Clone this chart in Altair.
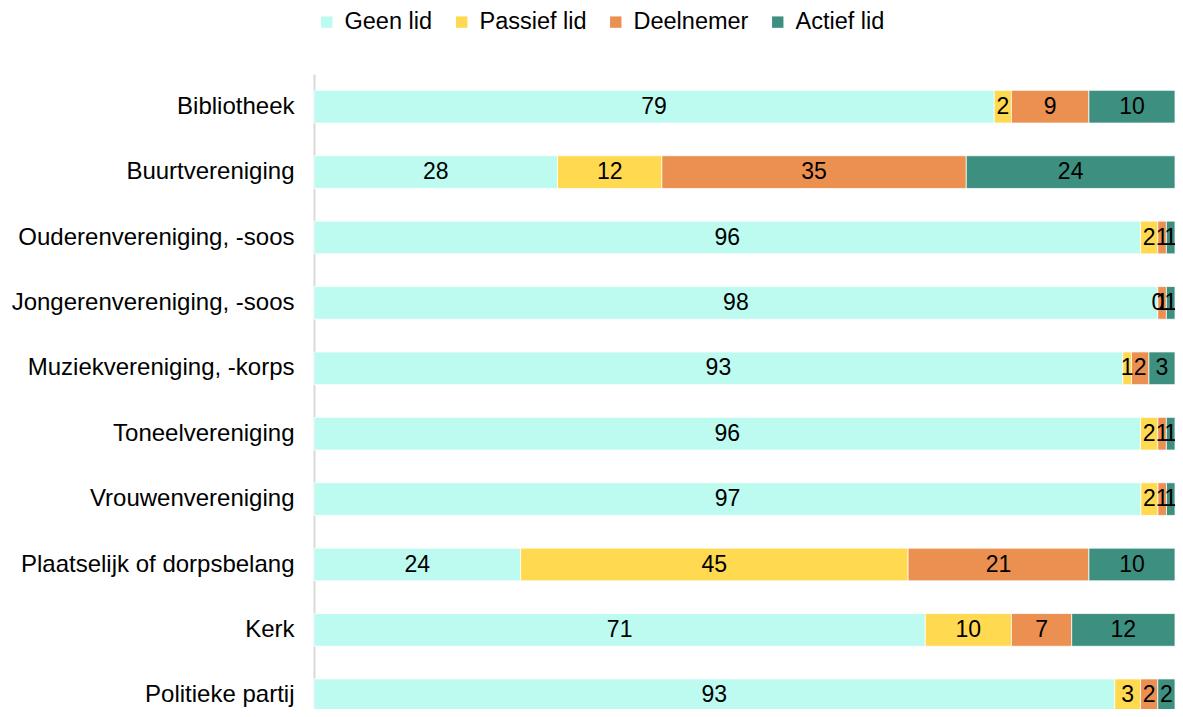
import altair as alt
import pandas as pd

categories = ["Bibliotheek", "Buurtvereniging", "Ouderenvereniging, -soos",
              "Jongerenvereniging, -soos", "Muziekvereniging, -korps",
              "Toneelvereniging", "Vrouwenvereniging", "Plaatselijk of dorpsbelang",
              "Kerk", "Politieke partij"]
series = ["Geen lid", "Passief lid", "Deelnemer", "Actief lid"]
geen_lid = [79, 28, 96, 98, 93, 96, 97, 24, 71, 93]
passief_lid = [2, 12, 2, 0, 1, 2, 2, 45, 10, 3]
deelnemer = [9, 35, 1, 1, 2, 1, 1, 21, 7, 2]
actief_lid = [10, 24, 1, 1, 3, 1, 1, 10, 12, 2]
colors = ["#BDFBF1", "#FFD94F", "#EB9050", "#3D9080"]

rows = []
for si, (name, vals) in enumerate(zip(series, [geen_lid, passief_lid, deelnemer, actief_lid])):
    for c, v in zip(categories, vals):
        rows.append({"cat": c, "series": name, "value": v, "order": si})
df = pd.DataFrame(rows)

FONT = "Liberation Sans"

base = alt.Chart(df).transform_stack(
    stack="value", groupby=["cat"], as_=["v0", "v1"],
    offset="normalize", sort=[alt.SortField("order", order="ascending")]
).transform_calculate(mid="(datum.v0 + datum.v1) / 2")

yenc = alt.Y("cat:N", sort=categories, title=None,
             scale=alt.Scale(paddingInner=0.5, paddingOuter=0.25, range=[0, 654]),
             axis=alt.Axis(labelFontSize=24, labelFont=FONT, labelColor="#000000",
                           labelPadding=20, labelLimit=0, ticks=False,
                           domainColor="#D9D9D9", domainWidth=2, grid=False))

bars = base.mark_bar(stroke="white", strokeWidth=0.75).encode(
    x=alt.X("v0:Q", axis=None, scale=alt.Scale(domain=[0, 1], nice=False)),
    x2="v1:Q",
    y=yenc,
    color=alt.Color("series:N", sort=series,
                    scale=alt.Scale(domain=series, range=colors),
                    legend=alt.Legend(title=None, orient="none", direction="horizontal",
                                      legendX=1, legendY=-64, labelFontSize=23.5,
                                      labelFont=FONT, labelColor="#000000",
                                      symbolType="square", symbolSize=130,
                                      symbolStrokeWidth=0, labelOffset=6,
                                      columnPadding=17, labelLimit=0)),
)

labels = base.mark_text(fontSize=23, font=FONT, color="#000000").encode(
    x=alt.X("mid:Q"),
    y=alt.Y("cat:N", sort=categories),
    text="value:Q",
)

chart = (bars + labels).properties(
    width=861, height=635,
    autosize=alt.AutoSizeParams(type="none"),
    padding={"left": 306, "top": 66, "right": 0, "bottom": 0},
).configure_view(stroke=None)

chart.save("out.html", embed_options={"renderer": "svg", "actions": False})
